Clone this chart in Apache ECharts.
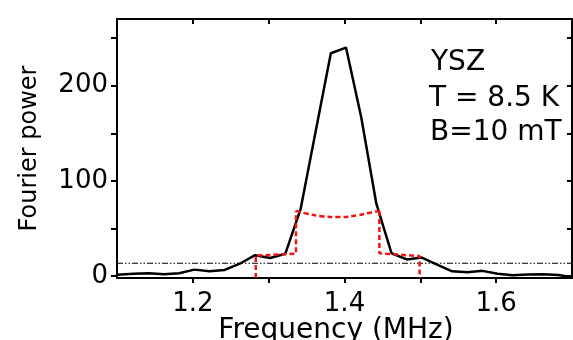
<!DOCTYPE html>
<html>
<head>
<meta charset="utf-8">
<script src="https://cdn.jsdelivr.net/npm/echarts@6/dist/echarts.min.js"></script>
<style>
html,body{margin:0;padding:0;background:#fff;}
#chart{width:573px;height:340px;}
</style>
</head>
<body>
<div id="chart"></div>
<script>
// Measured spectrum (black curve)
const freq = [1.100, 1.122, 1.142, 1.162, 1.182, 1.202, 1.222, 1.242, 1.262, 1.282,
              1.302, 1.322, 1.342, 1.362, 1.382, 1.402, 1.422, 1.442, 1.462, 1.482,
              1.502, 1.522, 1.542, 1.562, 1.582, 1.602, 1.622, 1.642, 1.662, 1.682, 1.700];
const power = [1.3, 2.5, 3, 2, 3, 6.8, 5, 6.5, 13, 22,
               19, 23.5, 70, 152, 234, 240, 167, 76, 24, 17.5,
               19.5, 12, 5, 4, 5.5, 2.4, 0.8, 1.6, 2, 1.2, -1.3];
// Red dashed model: left step, central arc, right step
const leftStepFreq = [1.283, 1.283, 1.336, 1.336];
const leftStepPower = [-2, 21.5, 23.5, 68.5];
const arcFreq = [1.336, 1.351, 1.372, 1.394, 1.417, 1.434, 1.446];
const arcPower = [68.5, 65.5, 62.7, 62, 63.8, 66.6, 68.3];
const rightStepFreq = [1.446, 1.446, 1.499, 1.499];
const rightStepPower = [68.3, 24, 21, -2];
// Noise threshold (dash-dot line)
const thresholdFreq = [1.1, 1.7];
const thresholdPower = [13.5, 13.5];
// Ticks and labels
const xTicks = [1.2, 1.3, 1.4, 1.5, 1.6];
const xLabels = [1.2, 1.4, 1.6];
const yTicks = [0, 50, 100, 150, 200, 250];
const yLabels = [0, 100, 200];
const annotations = ['YSZ', 'T = 8.5 K', 'B=10 mT'];

const zip = (a, b) => a.map((v, i) => [v, b[i]]);
const FONT = 'DejaVu Sans';
const RED = '#ee1515';

const chart = echarts.init(document.getElementById('chart'), null, {renderer: 'canvas'});
const axisLineStyle = {color: '#000', width: 2};
chart.setOption({
  animation: false,
  backgroundColor: '#fff',
  grid: {left: 117, right: 1, top: 19, bottom: 62, containLabel: false, outerBoundsMode: 'none'},
  xAxis: [{
    type: 'value', min: 1.1, max: 1.7, position: 'bottom',
    axisLine: {show: true, onZero: false, lineStyle: axisLineStyle},
    axisTick: {show: true, inside: false, length: 5, customValues: xTicks, lineStyle: {color: '#000', width: 2}},
    axisLabel: {show: true, customValues: xLabels, margin: 13, formatter: v => v.toFixed(1),
      fontFamily: FONT, fontSize: 26, color: '#000'},
    splitLine: {show: false},
    name: 'Frequency (MHz)', nameLocation: 'middle', nameGap: 39, nameMoveOverlap: false,
    nameTextStyle: {fontFamily: FONT, fontSize: 28, color: '#000', padding: [0, 17, 0, 0]}
  }, {
    type: 'value', min: 1.1, max: 1.7, position: 'top',
    axisLine: {show: true, onZero: false, lineStyle: axisLineStyle},
    axisTick: {show: true, inside: true, length: 5, customValues: xTicks, lineStyle: {color: '#000', width: 2}},
    axisLabel: {show: false}, splitLine: {show: false}
  }],
  yAxis: [{
    type: 'value', min: -2, max: 270, position: 'left',
    axisLine: {show: true, onZero: false, lineStyle: axisLineStyle},
    axisTick: {show: true, inside: false, length: 6, customValues: yTicks, lineStyle: {color: '#000', width: 2}},
    axisLabel: {show: true, customValues: yLabels, margin: 9,
      fontFamily: FONT, fontSize: 26, color: '#000'},
    splitLine: {show: false},
    name: 'Fourier power', nameLocation: 'middle', nameGap: 75, nameRotate: 90, nameMoveOverlap: false,
    nameTextStyle: {fontFamily: FONT, fontSize: 24, color: '#000'}
  }, {
    type: 'value', min: -2, max: 270, position: 'right',
    axisLine: {show: true, onZero: false, lineStyle: axisLineStyle},
    axisTick: {show: true, inside: true, length: 5, customValues: yTicks, lineStyle: {color: '#000', width: 2}},
    axisLabel: {show: false}, splitLine: {show: false}
  }],
  series: [{
    type: 'line', data: zip(thresholdFreq, thresholdPower), symbol: 'none', silent: true,
    lineStyle: {color: '#000', width: 1.2, type: [6, 2, 1.5, 2, 1.5, 2]}
  }, {
    type: 'line', data: zip(freq, power), symbol: 'none', clip: true,
    lineStyle: {color: '#000', width: 2.5}
  }, {
    type: 'line', data: zip(leftStepFreq, leftStepPower), symbol: 'none', clip: true,
    lineStyle: {color: RED, width: 2.5, type: [5, 3]}
  }, {
    type: 'line', data: zip(arcFreq, arcPower), symbol: 'none', smooth: true,
    lineStyle: {color: RED, width: 2.5, type: [5, 3]}
  }, {
    type: 'line', data: zip(rightStepFreq, rightStepPower), symbol: 'none', clip: true,
    lineStyle: {color: RED, width: 2.5, type: [5, 3]}
  }],
  graphic: [
    {type: 'text', x: 431, y: 63, style: {text: annotations[0], font: '28px "DejaVu Sans"', fill: '#000', verticalAlign: 'middle'}},
    {type: 'text', x: 429, y: 99, style: {text: annotations[1], font: '28px "DejaVu Sans"', fill: '#000', verticalAlign: 'middle'}},
    {type: 'text', x: 430, y: 133, style: {text: annotations[2], font: '28px "DejaVu Sans"', fill: '#000', verticalAlign: 'middle'}}
  ]
});
</script>
</body>
</html>
